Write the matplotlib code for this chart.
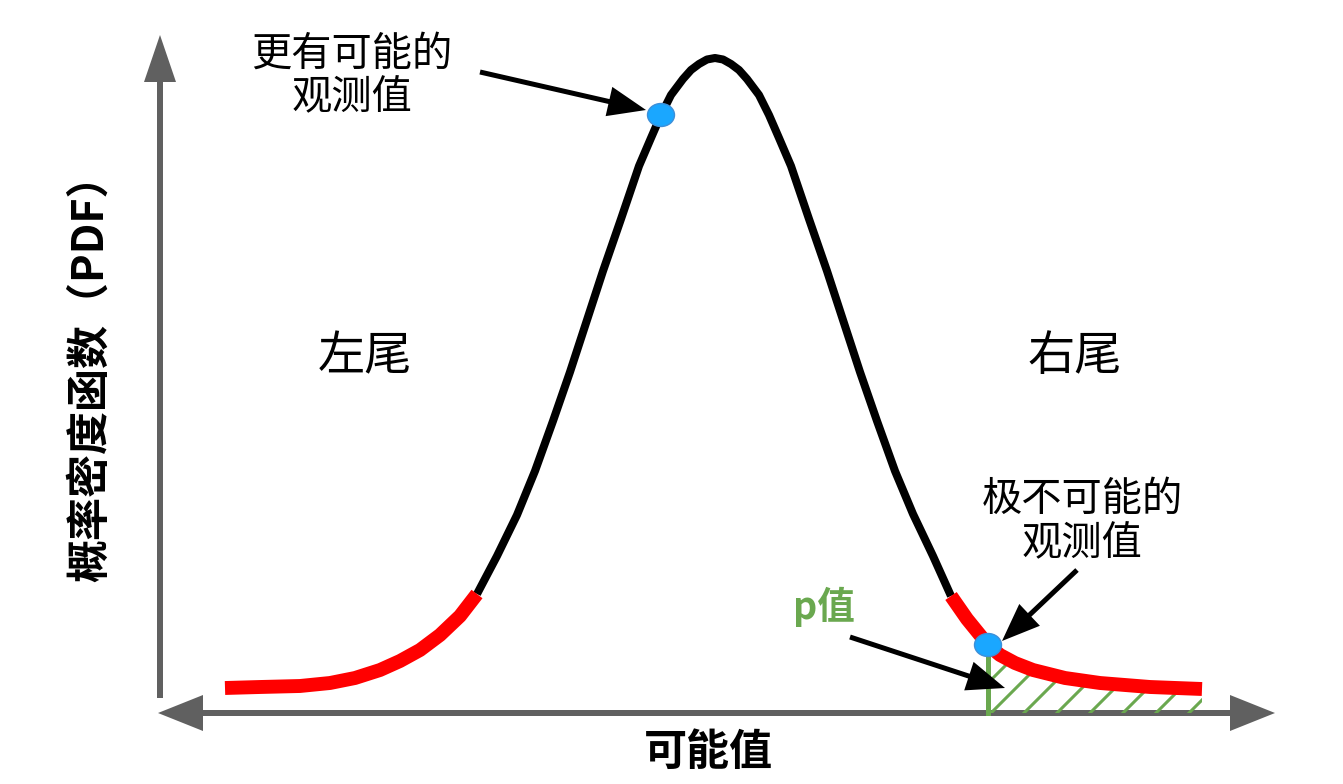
import numpy as np
import matplotlib
matplotlib.use("Agg")
import matplotlib.pyplot as plt
from matplotlib.patches import FancyArrow, Ellipse, Polygon

plt.rcParams['font.family'] = ['Noto Sans CJK SC', 'DejaVu Sans']

# curve points (x = value, y = density)
left_x = [0.65, 1.00, 1.40, 1.70, 1.95, 2.20, 2.40, 2.60, 2.80, 3.00, 3.17]
left_y = [0.25, 0.26, 0.27, 0.30, 0.35, 0.43, 0.52, 0.63, 0.78, 0.97, 1.19]

mid_x = [3.17, 3.37, 3.57, 3.75, 3.93, 4.10, 4.27, 4.43, 4.61, 4.79, 4.91,
         5.01, 5.11, 5.23, 5.31, 5.39, 5.47, 5.55, 5.63, 5.71, 5.79, 5.87,
         5.99, 6.09, 6.19, 6.31, 6.49, 6.67, 6.83, 7.00, 7.17, 7.35, 7.53,
         7.73, 7.91]
mid_y = [1.19, 1.57, 1.98, 2.42, 2.92, 3.41, 3.93, 4.42, 4.94, 5.47, 5.75,
         5.98, 6.18, 6.34, 6.43, 6.49, 6.535, 6.55, 6.535, 6.49, 6.43, 6.34,
         6.18, 5.98, 5.75, 5.47, 4.94, 4.42, 3.93, 3.41, 2.92, 2.42, 1.99,
         1.57, 1.17]

right_x = [7.91, 8.07, 8.20, 8.28, 8.40, 8.55, 8.73, 9.05, 9.40, 9.90, 10.42]
right_y = [1.17, 0.94, 0.78, 0.68, 0.58, 0.50, 0.43, 0.35, 0.30, 0.26, 0.24]

# observed values
likely_obs = (5.01, 5.98)
unlikely_obs = (8.28, 0.68)

gray = '#606060'
green = '#6aa84f'

fig = plt.figure(figsize=(13.43, 7.84), dpi=100)
ax = fig.add_axes([0, 0, 1, 1])
ax.set_xlim(-1.6, 11.83)
ax.set_ylim(-0.71, 7.13)
ax.axis('off')

# axes arrows
ax.add_patch(FancyArrow(5.6, 0, 5.55, 0, width=0.06, head_width=0.36,
                        head_length=0.45, length_includes_head=True,
                        color=gray, lw=0))
ax.add_patch(FancyArrow(5.6, 0, -5.62, 0, width=0.06, head_width=0.36,
                        head_length=0.45, length_includes_head=True,
                        color=gray, lw=0))
ax.add_patch(FancyArrow(0, 0.15, 0, 6.63, width=0.06, head_width=0.32,
                        head_length=0.47, length_includes_head=True,
                        color=gray, lw=0))

# p-value area (hatched)
i0 = right_x.index(unlikely_obs[0])
tail = list(zip(right_x[i0:], right_y[i0:]))
poly = Polygon(tail + [(right_x[-1], 0), (right_x[i0], 0)], closed=True,
               facecolor='none', edgecolor='none')
ax.add_patch(poly)
for c in np.arange(right_x[i0] - 0.30, right_x[-1] + 0.4, 0.33):
    ln, = ax.plot([c, c + 1.2], [0, 1.2], color=green, lw=2.2, zorder=2)
    ln.set_clip_path(poly)

ax.plot([unlikely_obs[0], unlikely_obs[0]], [0, unlikely_obs[1]],
        color=green, lw=3.6, zorder=3)

# curve
ax.plot(mid_x, mid_y, color='black', lw=5.8, solid_capstyle='butt',
        solid_joinstyle='round', zorder=4)
ax.plot(left_x, left_y, color='#ff0000', lw=10, solid_capstyle='butt',
        solid_joinstyle='round', zorder=5)
ax.plot(right_x, right_y, color='#ff0000', lw=10, solid_capstyle='butt',
        solid_joinstyle='round', zorder=5)

for pt in (likely_obs, unlikely_obs):
    ax.add_patch(Ellipse(pt, 0.27, 0.23, facecolor='#1aa7ff',
                         edgecolor='#3d8fd8', lw=1, zorder=7))

# annotation arrows
def arrow(x0, y0, x1, y1):
    ax.add_patch(FancyArrow(x0, y0, x1 - x0, y1 - y0, width=0.05,
                            head_width=0.30, head_length=0.38,
                            length_includes_head=True, color='black',
                            lw=0, zorder=6))

arrow(3.20, 6.41, 4.86, 6.03)
arrow(9.17, 1.43, 8.42, 0.72)
arrow(6.90, 0.76, 8.45, 0.25)

# texts
ax.text(1.92, 6.37, '更有可能的\n观测值', fontsize=29, ha='center',
        va='center', linespacing=1.1)
ax.text(9.22, 1.91, '极不可能的\n观测值', fontsize=29, ha='center',
        va='center', linespacing=1.1)
ax.text(2.05, 3.56, '左尾', fontsize=34, ha='center', va='center')
ax.text(9.15, 3.56, '右尾', fontsize=34, ha='center', va='center')
ax.text(6.64, 1.06, 'p值', fontsize=27, ha='center', va='center',
        color=green, fontweight='bold')
ax.text(5.48, -0.39, '可能值', fontsize=31, ha='center', va='center',
        fontweight='bold')
ax.text(-0.70, 3.45, '概率密度函数（PDF）', fontsize=31, ha='center',
        va='center', rotation=90, fontweight='bold')

fig.savefig('out.png', dpi=100)
